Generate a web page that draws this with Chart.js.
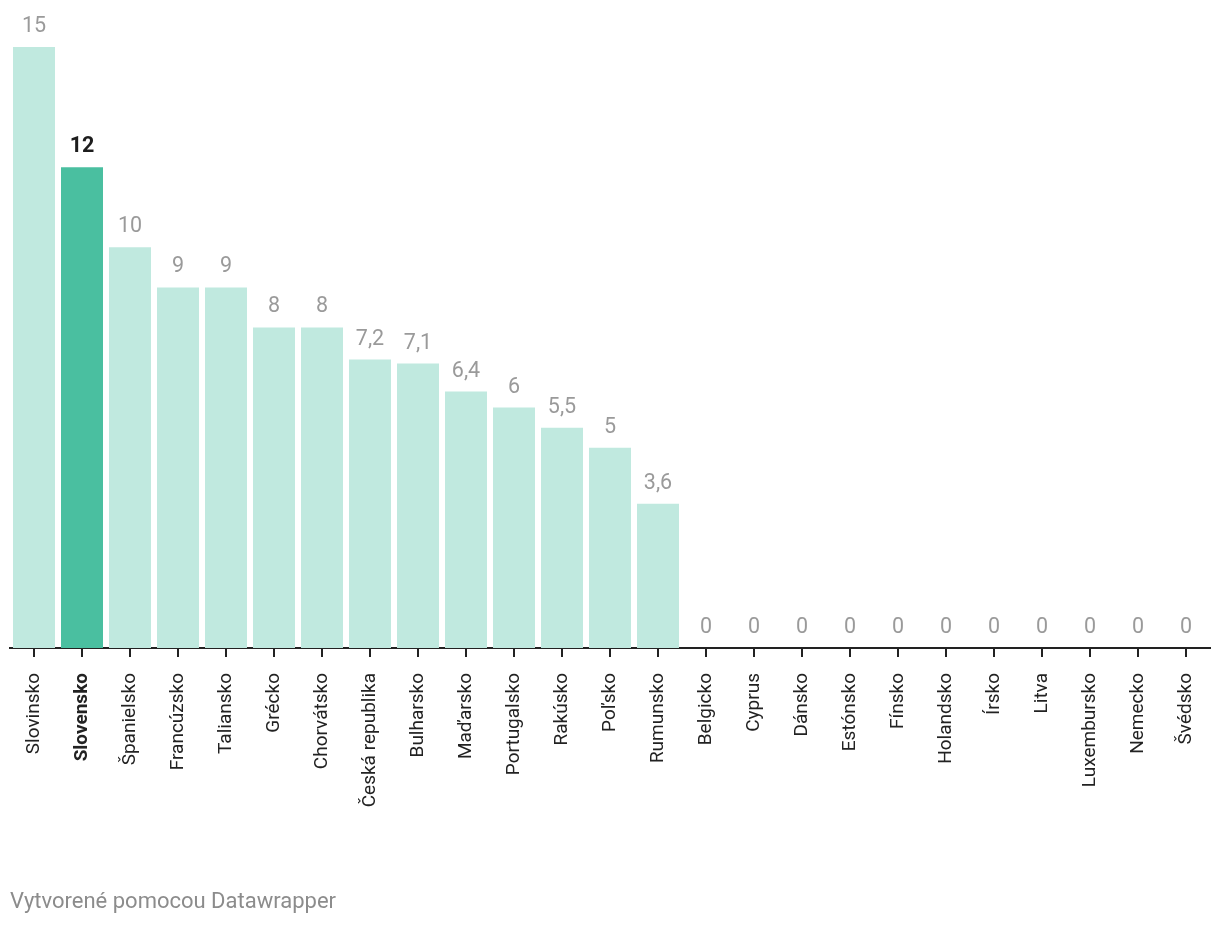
<!DOCTYPE html>
<html>
<head>
<meta charset="utf-8">
<script src="https://cdn.jsdelivr.net/npm/chart.js@4"></script>
<style>
  html, body { margin: 0; padding: 0; background: #fff; }
  #wrap { position: relative; width: 1220px; height: 926px; }
  #footer { position: absolute; left: 10px; top: 888px; font-family: Roboto, sans-serif; font-size: 22px; color: #8c8c8c; }
</style>
</head>
<body>
<div id="wrap">
  <canvas id="c" width="1220" height="926"></canvas>
  <div id="footer">Vytvorené pomocou Datawrapper</div>
</div>
<script>
const categories = ["Slovinsko","Slovensko","Španielsko","Francúzsko","Taliansko","Grécko","Chorvátsko","Česká republika","Bulharsko","Maďarsko","Portugalsko","Rakúsko","Poľsko","Rumunsko","Belgicko","Cyprus","Dánsko","Estónsko","Fínsko","Holandsko","Írsko","Litva","Luxembursko","Nemecko","Švédsko"];
const values = [15,12,10,9,9,8,8,7.2,7.1,6.4,6,5.5,5,3.6,0,0,0,0,0,0,0,0,0,0,0];
const highlightCategory = "Slovensko";

const LIGHT = "#c0e9df";
const DARK = "#4abfa0";

const valueLabels = {
  id: "valueLabels",
  afterDatasetsDraw(chart) {
    const ctx = chart.ctx;
    const meta = chart.getDatasetMeta(0);
    ctx.save();
    ctx.textAlign = "center";
    ctx.textBaseline = "alphabetic";
    meta.data.forEach((bar, i) => {
      const hi = categories[i] === highlightCategory;
      ctx.font = (hi ? "bold " : "") + "21.5px Roboto";
      ctx.fillStyle = hi ? "#1d1d1d" : "#9a9a9a";
      ctx.fillText(String(values[i]).replace(".", ","), bar.x, bar.y - 15);
    });
    ctx.restore();
  }
};

new Chart(document.getElementById("c"), {
  type: "bar",
  data: {
    labels: categories,
    datasets: [{
      data: values,
      backgroundColor: categories.map(c => c === highlightCategory ? DARK : LIGHT),
      borderWidth: 0,
      categoryPercentage: 1,
      barPercentage: 0.875
    }]
  },
  options: {
    responsive: false,
    animation: false,
    layout: { padding: { top: 47, left: 10, right: 10, bottom: 0 } },
    plugins: { legend: { display: false }, tooltip: { enabled: false } },
    scales: {
      y: { display: false, min: 0, max: 15 },
      x: {
        afterFit(s) { s.height = 926 - 648; s.paddingLeft = 0; s.paddingRight = 0; },
        border: { display: true, color: "#222", width: 2 },
        grid: { offset: false, drawOnChartArea: false, drawTicks: true, tickLength: 9, color: "#222", lineWidth: 2 },
        ticks: {
          minRotation: 90, maxRotation: 90,
          padding: 16,
          autoSkip: false,
          color: "#222",
          font: (ctx) => ({ family: "Roboto", size: 19, weight: categories[ctx.index] === highlightCategory ? "bold" : "normal" })
        }
      }
    }
  },
  plugins: [valueLabels]
});
</script>
</body>
</html>
